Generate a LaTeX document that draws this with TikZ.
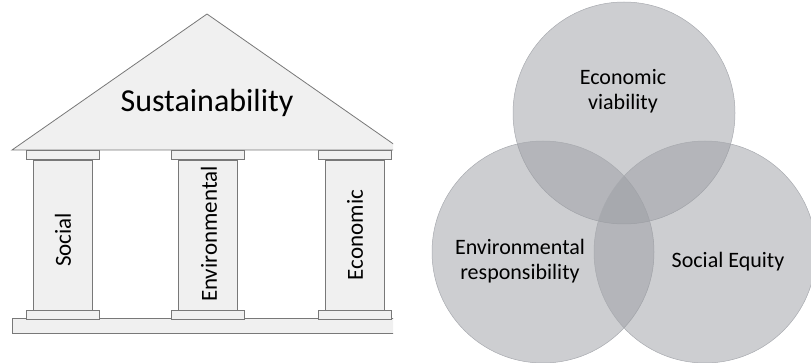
\documentclass[tikz,border=0pt]{standalone}
\usepackage{fontspec}
\setmainfont{Carlito}
\usetikzlibrary{positioning}
\definecolor{roofgray}{RGB}{240,240,240}
\definecolor{linegray}{RGB}{120,120,120}
\definecolor{venngray}{RGB}{155,157,163}
\definecolor{vennline}{RGB}{168,170,175}

\begin{document}
\begin{tikzpicture}[x=1pt,y=-1pt,node distance=0pt]
\tikzstyle{slab}=[rectangle,draw=linegray,fill=roofgray,line width=0.8pt,minimum width=73pt,minimum height=9pt,inner sep=0pt]
\tikzstyle{shaft}=[rectangle,draw=linegray,fill=roofgray,line width=0.8pt,minimum width=59pt,minimum height=150pt,inner sep=0pt]
\tikzstyle{pillartext}=[rotate=90,font=\fontsize{23}{26}\selectfont]
\tikzstyle{venn}=[circle,fill=venngray,fill opacity=0.5,draw=vennline,line width=0.5pt,minimum size=222pt,inner sep=0pt]
\tikzstyle{venntext}=[align=center,font=\fontsize{22}{25}\selectfont]

\useasboundingbox (0,0) rectangle (811,363);

%--- temple ---
\begin{scope}
\clip (0,0) rectangle (393,363);
\draw[draw=linegray,fill=roofgray,line width=0.8pt] (12,150) -- (207,14) -- (402,150) -- cycle;
\draw[draw=linegray,fill=roofgray,line width=0.8pt] (12,318) rectangle (402,333);
\end{scope}
\node[font=\fontsize{32}{36}\selectfont] (roof) at (207,103) {Sustainability};

%--- pillars ---
\node[shaft] (social) at (62.5,235) {};
\node[shaft] (env) at (208,235) {};
\node[shaft] (econ) at (354.5,235) {};
\foreach \p in {social,env,econ}{
  \node[slab] (\p top) [above=0pt of \p] {};
  \node[slab] (\p base) [below=0pt of \p] {};
}
\node[pillartext] at (63,240) {Social};
\node[pillartext] at (209,234) {Environmental};
\node[pillartext] at (355,235) {Economic};

%--- venn ---
\node[venn] (top) at (624,113) {};
\node[venn] (left) at (543,252) {};
\node[venn] (right) at (705,252) {};
\node[venntext] at (623,91) {Economic\\viability};
\node[venntext] at (520,261) {Environmental\\responsibility};
\node[venntext] at (728,262) {Social Equity};

\end{tikzpicture}
\end{document}
